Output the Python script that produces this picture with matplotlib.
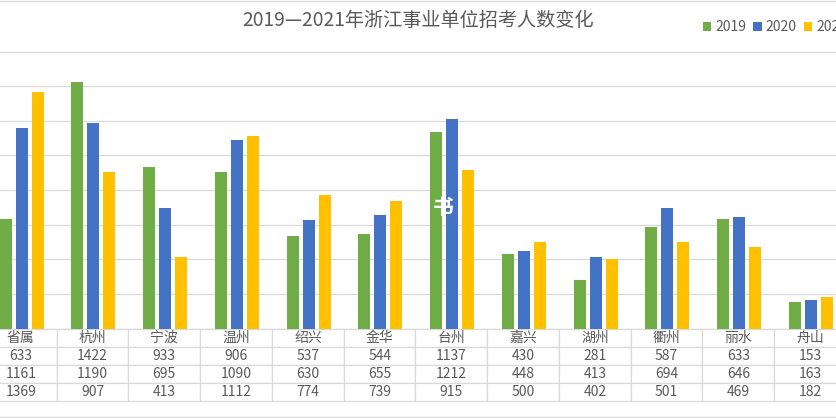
import matplotlib
matplotlib.use("Agg")
import matplotlib.pyplot as plt
from matplotlib.lines import Line2D
import numpy as np

plt.rcParams["font.family"] = ["Noto Sans CJK SC", "DejaVu Sans"]

TITLE = "2019—2021年浙江事业单位招考人数变化"
regions = ["省属", "杭州", "宁波", "温州", "绍兴", "金华", "台州", "嘉兴", "湖州", "衢州", "丽水", "舟山"]
years = ["2019", "2020", "2021"]
v2019 = [633, 1422, 933, 906, 537, 544, 1137, 430, 281, 587, 633, 153]
v2020 = [1161, 1190, 695, 1090, 630, 655, 1212, 448, 413, 694, 646, 163]
v2021 = [1369, 907, 413, 1112, 774, 739, 915, 500, 402, 501, 469, 182]
colors = ["#70AD47", "#4472C4", "#FFC000"]

TXT = "#595959"
GRID = "#D9D9D9"

W, H = 836, 418
fig = plt.figure(figsize=(W / 100, H / 100), dpi=100)

# plot area runs past the image edges (the source picture is cropped)
left_px, right_px, top_px, bot_px = -15, 846, 51.7, 328.5
ax = fig.add_axes([left_px / W, 1 - bot_px / H,
                   (right_px - left_px) / W, (bot_px - top_px) / H])

x = np.arange(len(regions))
pitch, bw = 0.223, 0.167
for i, (vals, c, yr) in enumerate(zip([v2019, v2020, v2021], colors, years)):
    ax.bar(x + (i - 1) * pitch + 0.01, vals, width=bw, color=c, label=yr, zorder=3)

ax.set_xlim(-0.5, len(regions) - 0.5)
ax.set_ylim(0, 1600)
ax.set_yticks(np.arange(0, 1601, 200))
ax.yaxis.grid(True, color=GRID, linewidth=0.9, zorder=0)
ax.set_xticks([])
ax.tick_params(left=False, labelleft=False)
for s in ax.spines.values():
    s.set_visible(False)

# data table under the bars
rows = [regions, [str(v) for v in v2019], [str(v) for v in v2020], [str(v) for v in v2021]]
tab_h = 72.5 / (bot_px - top_px)
tbl = ax.table(cellText=rows, cellLoc="center", bbox=[0, -tab_h, 1, tab_h])
tbl.auto_set_font_size(False)
for (r, c), cell in tbl.get_celld().items():
    cell.set_edgecolor(GRID)
    cell.set_linewidth(0.9)
    cell.get_text().set_color(TXT)
    cell.get_text().set_fontsize(10)

fig.text(417.5 / W, 1 - 21 / H, TITLE, ha="center", va="center",
         fontsize=13.8, color=TXT)

leg = ax.legend(loc="center left", bbox_to_anchor=(696 / W, 1 - 27 / H),
                bbox_transform=fig.transFigure, ncol=3, frameon=False,
                fontsize=10, handlelength=0.6, handleheight=0.6,
                handletextpad=0.3, columnspacing=0.5, borderpad=0)
for t in leg.get_texts():
    t.set_color(TXT)

# chart border lines visible at top and bottom of the crop
fig.add_artist(Line2D([0, 1], [1 - 1 / H, 1 - 1 / H], color=GRID, linewidth=1))
fig.add_artist(Line2D([0, 1], [1 - 417 / H, 1 - 417 / H], color=GRID, linewidth=1))

# faint watermark
fig.text(443 / W, 1 - 208 / H, "书", ha="center", va="center",
         fontsize=15, color="white", fontweight="bold")

fig.savefig("out.png", dpi=100, facecolor="white")
